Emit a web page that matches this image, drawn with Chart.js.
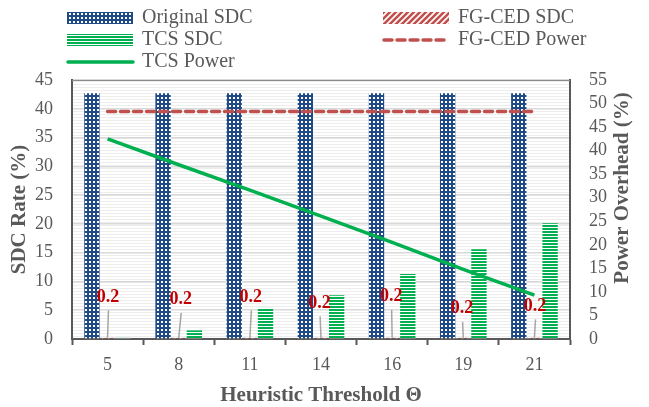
<!DOCTYPE html>
<html><head><meta charset="utf-8">
<script src="https://cdn.jsdelivr.net/npm/chart.js@4/dist/chart.umd.min.js"></script>
<style>html,body{margin:0;padding:0;background:#fff;}canvas{display:block;}</style>
</head><body>
<canvas id="c" width="649" height="407"></canvas>
<script>
// ---- data ----
const categories = ['5', '8', '11', '14', '16', '19', '21'];
const originalSDC = [42.7, 42.7, 42.7, 42.7, 42.7, 42.7, 42.7];
const fgcedSDC = [0.2, 0.2, 0.2, 0.2, 0.2, 0.2, 0.2];
const tcsSDC = [0.2, 1.5, 5.4, 7.6, 11.3, 15.6, 20.1];
const fgcedPower = [48.3, 48.3, 48.3, 48.3, 48.3, 48.3, 48.3];
const tcsPower = [42.5, 37.0, 31.6, 26.1, 20.5, 14.8, 9.3];
const fgcedLabels = ['0.2', '0.2', '0.2', '0.2', '0.2', '0.2', '0.2'];

// ---- styling helpers ----
const GREY = '#595959';
const FONT = "'Liberation Serif', 'Times New Roman', serif";
// label placement (pixel offsets of the data labels: dx, lift)
const labelPlacement = [[0.4, 41], [2, 38.5], [1, 41], [-1.4, 35], [-1, 41.5], [-1.2, 29.5], [0.6, 32]];

function makePattern(w, h, draw) {
  const c = document.createElement('canvas');
  c.width = w; c.height = h;
  const g = c.getContext('2d');
  draw(g, w, h);
  return g.createPattern(c, 'repeat');
}
const bluePattern = makePattern(4, 4, (g) => {
  g.fillStyle = '#1F4A85'; g.fillRect(0, 0, 4, 4);
  g.fillStyle = '#ffffff'; g.fillRect(1, 1, 2, 2);
});
const greenPattern = makePattern(4, 3, (g) => {
  g.fillStyle = '#ffffff'; g.fillRect(0, 0, 4, 3);
  g.fillStyle = '#00B050'; g.fillRect(0, 0, 4, 2);
});
const redPattern = makePattern(6, 6, (g) => {
  g.fillStyle = '#ffffff'; g.fillRect(0, 0, 6, 6);
  g.strokeStyle = '#C0504D'; g.lineWidth = 2.6;
  g.beginPath();
  g.moveTo(-1, 7); g.lineTo(7, -1);
  g.moveTo(-4, 4); g.lineTo(4, -4);
  g.moveTo(2, 10); g.lineTo(10, 2);
  g.stroke();
});
const bgPattern = makePattern(2, 3, (g) => {
  g.fillStyle = '#ffffff'; g.fillRect(0, 0, 2, 3);
  g.fillStyle = '#ededed'; g.fillRect(0, 0, 2, 1);
});

const decoPlugin = {
  id: 'deco',
  beforeDraw(chart) {
    const { ctx, chartArea: a } = chart;
    ctx.save();
    ctx.fillStyle = bgPattern;
    ctx.fillRect(a.left, a.top, a.right - a.left, a.bottom - a.top);
    ctx.restore();
  },
  afterDatasetsDraw(chart) {
    const { ctx } = chart;
    const meta = chart.getDatasetMeta(1);
    ctx.save();
    meta.data.forEach((bar, i) => {
      const [dx, lift] = labelPlacement[i];
      const lx = bar.x + dx, ly = bar.y - lift;
      ctx.strokeStyle = '#A6A6A6'; ctx.lineWidth = 1.5;
      ctx.beginPath(); ctx.moveTo(lx + 0.5, ly + 13.5); ctx.lineTo(bar.x, bar.y); ctx.stroke();
      ctx.fillStyle = '#C00000';
      ctx.font = "bold 18px " + FONT;
      ctx.textAlign = 'center'; ctx.textBaseline = 'middle';
      ctx.fillText(fgcedLabels[i], lx, ly);
    });
    ctx.restore();
  },
  afterDraw(chart) {
    const { ctx, chartArea: a } = chart;
    ctx.save();
    // top border
    ctx.strokeStyle = '#8a8a8a'; ctx.lineWidth = 1;
    ctx.beginPath(); ctx.moveTo(a.left, a.top + 0.5); ctx.lineTo(a.right, a.top + 0.5); ctx.stroke();
    // right axis title
    ctx.fillStyle = GREY;
    ctx.font = "bold 21px " + FONT;
    ctx.textAlign = 'center'; ctx.textBaseline = 'middle';
    ctx.translate(623, 188);
    ctx.rotate(-Math.PI / 2);
    ctx.fillText('Power Overhead (%)', 0, 0);
    ctx.restore();

    // legend
    const ds = chart.data.datasets;
    const items = [
      { d: ds[0], x: 67, y: 18, kind: 'box' },
      { d: ds[2], x: 67, y: 40, kind: 'box' },
      { d: ds[4], x: 67, y: 62, kind: 'line' },
      { d: ds[1], x: 383, y: 18, kind: 'box' },
      { d: ds[3], x: 383, y: 40, kind: 'line' },
    ];
    ctx.save();
    items.forEach(it => {
      if (it.kind === 'box') {
        ctx.fillStyle = it.d.backgroundColor;
        ctx.fillRect(it.x, it.y - 6, 66, 12);
      } else {
        ctx.strokeStyle = it.d.borderColor;
        ctx.lineWidth = it.d.borderWidth;
        ctx.lineCap = 'round';
        ctx.setLineDash(it.d.borderDash || []);
        ctx.beginPath(); ctx.moveTo(it.x + 1, it.y); ctx.lineTo(it.x + 66, it.y); ctx.stroke();
        ctx.setLineDash([]);
      }
      ctx.fillStyle = GREY;
      ctx.font = "20px " + FONT;
      ctx.textAlign = 'left'; ctx.textBaseline = 'middle';
      ctx.fillText(it.d.label, it.x + 75, it.y);
    });
    ctx.restore();
  }
};

new Chart(document.getElementById('c'), {
  data: {
    labels: categories,
    datasets: [
      { type: 'bar', label: 'Original SDC', data: originalSDC, backgroundColor: bluePattern, yAxisID: 'y', order: 2,
        categoryPercentage: 0.66, barPercentage: 0.98 },
      { type: 'bar', label: 'FG-CED SDC', data: fgcedSDC, backgroundColor: redPattern, yAxisID: 'y', order: 2,
        categoryPercentage: 0.66, barPercentage: 0.98 },
      { type: 'bar', label: 'TCS SDC', data: tcsSDC, backgroundColor: greenPattern, yAxisID: 'y', order: 2,
        categoryPercentage: 0.66, barPercentage: 0.98 },
      { type: 'line', label: 'FG-CED Power', data: fgcedPower, borderColor: '#C0504D', borderWidth: 3.5,
        borderDash: [8, 5], borderCapStyle: 'round', pointRadius: 0, tension: 0, yAxisID: 'y1', order: 1, fill: false },
      { type: 'line', label: 'TCS Power', data: tcsPower, borderColor: '#00B050', borderWidth: 3.5,
        pointRadius: 0, tension: 0, yAxisID: 'y1', order: 0, fill: false },
    ]
  },
  options: {
    responsive: false,
    animation: false,
    devicePixelRatio: 1,
    layout: { padding: { top: 80, left: 0, right: 0, bottom: 0 } },
    plugins: { legend: { display: false }, tooltip: { enabled: false } },
    scales: {
      x: {
        offset: true,
        grid: { display: true, drawOnChartArea: false, drawTicks: true, tickLength: 6, tickColor: GREY, tickWidth: 2, offset: true },
        border: { display: true, color: GREY, width: 2 },
        ticks: { color: GREY, font: { family: FONT, size: 18 }, padding: 9, maxRotation: 0, autoSkip: false },
        title: { display: true, text: 'Heuristic Threshold Θ', color: GREY,
          font: { family: FONT, size: 21, weight: 'bold', lineHeight: 1 }, padding: { top: 0, bottom: 1 } },
        afterFit(s) { s.height = 68; }
      },
      y: {
        position: 'left', min: 0, max: 45,
        grid: { color: '#D9D9D9', lineWidth: 1.5, drawTicks: false },
        border: { display: true, color: GREY, width: 2 },
        ticks: { stepSize: 5, color: GREY, font: { family: FONT, size: 18 }, padding: 19, autoSkip: false },
        title: { display: true, text: 'SDC Rate (%)', color: GREY,
          font: { family: FONT, size: 21, weight: 'bold' }, padding: { top: 7, bottom: 0 } },
        afterFit(s) { s.width = 72; }
      },
      y1: {
        position: 'right', min: 0, max: 55,
        grid: { drawOnChartArea: false, drawTicks: false },
        border: { display: true, color: GREY, width: 2 },
        ticks: { stepSize: 5, color: GREY, font: { family: FONT, size: 18 }, padding: 19, autoSkip: false },
        afterFit(s) { s.width = 79; }
      }
    }
  },
  plugins: [decoPlugin]
});
</script>
</body></html>
